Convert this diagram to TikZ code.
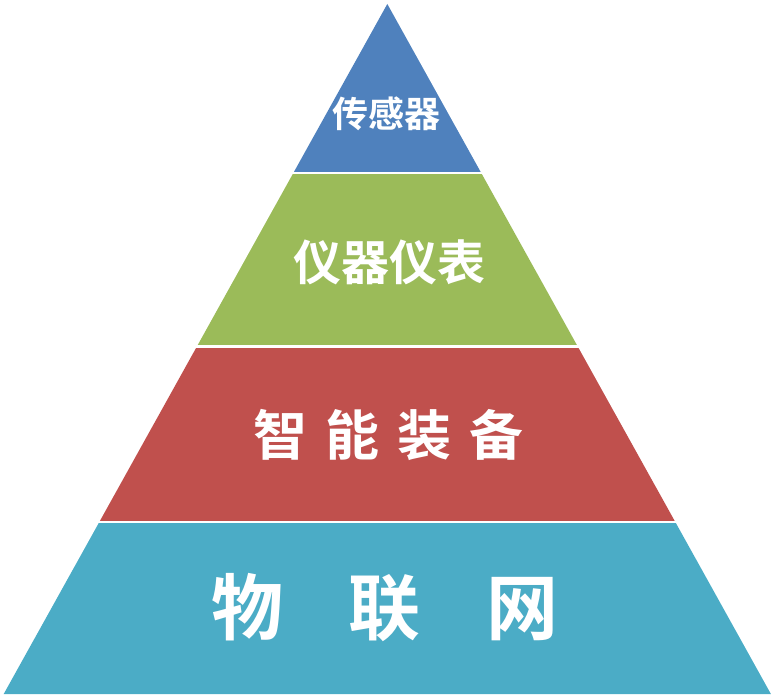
\documentclass[tikz,border=0pt]{standalone}
\usepackage{fontspec}
\newfontfamily\cjk{Noto Sans CJK SC Bold}
\definecolor{lblue}{HTML}{4F81BD}
\definecolor{lgreen}{HTML}{9BBB59}
\definecolor{lred}{HTML}{C0504D}
\definecolor{lteal}{HTML}{4BACC6}
\begin{document}
\begin{tikzpicture}[x=1pt,y=1pt,
  lbl/.style={text=white,font=\cjk,inner sep=0pt,anchor=center}]
\useasboundingbox (0,0) rectangle (775,698);
\coordinate (apex) at (387.3,694);
\coordinate (bl) at (3.7,4);
\coordinate (br) at (770.9,4);
\newcommand\layer[3]{%
  \begin{scope}
    \clip (0,#1) rectangle (775,#2);
    \fill[#3] (apex) -- (bl) -- (br) -- cycle;
  \end{scope}}
\layer{526}{698}{lblue}
\layer{353}{523}{lgreen}
\layer{177}{349}{lred}
\layer{0}{174}{lteal}
\node[lbl,font=\cjk\fontsize{36}{36}\selectfont] (t1) at (386.5,584) {传感器};
\node[lbl,font=\cjk\fontsize{48}{48}\selectfont] (t2) at (389,436) {仪器仪表};
\node[lbl,font=\cjk\fontsize{54}{54}\selectfont] (t3) at (388.5,263) {智\hspace{18pt}能\hspace{18pt}装\hspace{18pt}备};
\node[lbl,font=\cjk\fontsize{72}{72}\selectfont] (t4) at (385,90) {物\hspace{66pt}联\hspace{66pt}网};
\end{tikzpicture}
\end{document}
